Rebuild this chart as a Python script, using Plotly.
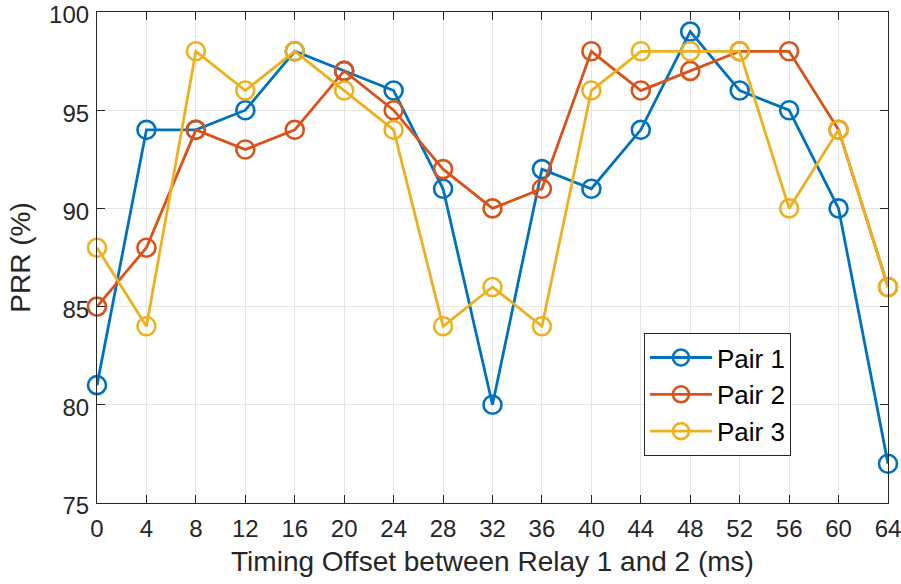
import plotly.graph_objects as go

# Timing offset between relay 1 and relay 2 (ms)
offsets = [0, 4, 8, 12, 16, 20, 24, 28, 32, 36, 40, 44, 48, 52, 56, 60, 64]

# Packet reception ratio (%) for each relay pair
pair1 = [81, 94, 94, 95, 98, 97, 96, 91, 80, 92, 91, 94, 99, 96, 95, 90, 77]
pair2 = [85, 88, 94, 93, 94, 97, 95, 92, 90, 91, 98, 96, 97, 98, 98, 94, 86]
pair3 = [88, 84, 98, 96, 98, 96, 94, 84, 86, 84, 96, 98, 98, 98, 90, 94, 86]

y_ticks = [75, 80, 85, 90, 95, 100]

names = ["Pair 1", "Pair 2", "Pair 3"]
colors = ["#0072BD", "#D95319", "#EDB120"]

fig = go.Figure()
for name, vals, col in zip(names, [pair1, pair2, pair3], colors):
    fig.add_trace(go.Scatter(
        x=offsets, y=vals, name=name, legendgroup=name, mode="lines+markers",
        line=dict(color=col, width=2.8),
        marker=dict(symbol="circle-open", size=18, color=col,
                    line=dict(width=2.6, color=col)),
        cliponaxis=False,
    ))

family = "Liberation Sans, Arial, sans-serif"
tick_font = dict(family=family, size=24, color="#262626")
title_font = dict(family=family, size=28, color="#262626")

common = dict(
    ticks="inside", ticklen=8, tickwidth=1.2, tickcolor="#262626",
    showline=True, linecolor="#262626", linewidth=1.2, mirror="ticks",
    showgrid=True, gridcolor="#e5e5e5", gridwidth=1, zeroline=False,
    tickfont=tick_font, ticklabeloverflow="allow",
)

fig.update_xaxes(
    range=[0, 64], tickvals=offsets, ticklabelstandoff=4, automargin="bottom",
    title=dict(text="Timing Offset between Relay 1 and 2 (ms)", font=title_font, standoff=10),
    **common,
)
fig.update_yaxes(
    range=[75, 100], tickvals=y_ticks, ticklabelstandoff=2, ticklabelshift=3,
    automargin="left",
    title=dict(text="PRR (%)", font=title_font, standoff=10),
    **common,
)

fig.update_layout(
    width=901, height=584,
    margin=dict(l=97, r=13, t=12, b=79),
    plot_bgcolor="white", paper_bgcolor="white",
    legend=dict(
        x=0.6915, y=0.346, xanchor="left", yanchor="top",
        bgcolor="white", bordercolor="#262626", borderwidth=1,
        font=dict(family=family, size=26, color="black"),
        traceorder="grouped", tracegroupgap=0, itemwidth=62,
    ),
)

fig.write_html("out.html")
